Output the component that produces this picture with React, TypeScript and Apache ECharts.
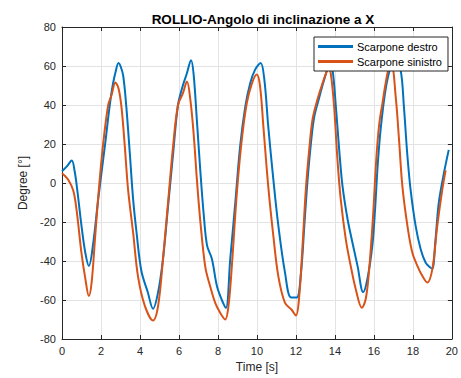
import React, { useEffect, useRef } from "react";
import * as echarts from "echarts";

const titleText = "ROLLIO-Angolo di inclinazione a X";
const xAxisName = "Time [s]";
const yAxisName = "Degree [°]";
const seriesNames = ["Scarpone destro", "Scarpone sinistro"];

const destroTimes = [
  0, 0.25, 0.5, 0.65, 0.8, 1.0, 1.2, 1.38, 1.6, 1.86, 2.2, 2.45, 2.6, 2.75, 2.9, 3.0, 3.14, 3.3, 3.48, 3.65,
  3.82, 4.07, 4.4, 4.67, 4.93, 5.18, 5.44, 5.7, 5.95, 6.2, 6.4, 6.62, 6.75, 6.92, 7.09, 7.26, 7.44, 7.69, 7.95,
  8.2, 8.41, 8.63, 8.89, 9.14, 9.4, 9.65, 9.9, 10.19, 10.38, 10.58, 10.84, 11.1, 11.44, 11.75, 12.04, 12.26,
  12.43, 12.6, 12.77, 12.94, 13.2, 13.45, 13.75, 13.88, 14.05, 14.22, 14.39, 14.65, 14.9, 15.16, 15.45, 15.67,
  15.92, 16.05, 16.2, 16.35, 16.6, 16.85, 17.1, 17.37, 17.54, 17.71, 17.88, 18.14, 18.4, 18.65, 18.9, 19.0,
  19.16, 19.33, 19.59, 19.84,
];
const destroValues = [
  6, 8.5, 11.5, 6, -5, -22, -36, -42.5, -31, -8, 19, 40, 50, 57, 61.5, 60, 55, 39, 15, -8.5,
  -25, -45, -56, -64.5, -56, -39, -12, 15, 40, 50, 56, 63, 56, 32, 7, -15, -32, -39, -53,
  -60, -64, -39, -10, 19, 39, 51, 58, 61.5, 53, 29, 2, -22, -46, -58.7, -58.7, -46,
  -22, 2, 20.5, 34, 44, 53, 61, 58, 39, 17, -1.6, -18.6, -30.6, -42.5, -56, -49,
  -32, -15, 10, 28, 48, 59, 63, 58, 39, 15, -3.3, -22, -34, -40.8, -43.4, -44,
  -29, -10, 5, 17,
];

const sinistroTimes = [
  0, 0.32, 0.58, 0.75, 1.0, 1.18, 1.38, 1.52, 1.69, 1.86, 2.1, 2.37, 2.54, 2.74, 2.9, 3.05, 3.22, 3.39, 3.65,
  3.9, 4.25, 4.67, 4.93, 5.18, 5.44, 5.7, 5.95, 6.2, 6.41, 6.58, 6.75, 6.92, 7.09, 7.35, 7.6, 7.86, 8.12, 8.37,
  8.54, 8.71, 8.97, 9.22, 9.48, 9.74, 9.99, 10.16, 10.33, 10.58, 10.84, 11.1, 11.44, 11.78, 12.0, 12.17, 12.34,
  12.51, 12.68, 12.85, 13.1, 13.36, 13.57, 13.67, 13.79, 13.96, 14.13, 14.3, 14.56, 14.81, 15.07, 15.38, 15.58,
  15.75, 15.95, 16.12, 16.27, 16.44, 16.6, 16.77, 16.91, 17.12, 17.29, 17.46, 17.72, 17.97, 18.23, 18.48, 18.74,
  19.0, 19.25, 19.51, 19.68,
];
const sinistroValues = [
  5, 1.7, -4, -14, -36, -48, -58, -51, -29, -7, 19, 40, 45, 51.5, 48.5, 39, 19, -3.4, -25.6,
  -48, -63, -70.5, -63, -39, -10, 19, 40, 46, 52, 43, 25.6, 1.7, -19, -43, -53, -61.5, -66.7, -70,
  -63, -43, -5, 22, 41, 51, 55.6, 49.6, 29, -1.7, -27, -48, -61.5, -65, -68, -58, -32,
  -3, 17, 32.5, 42.7, 51, 57, 59, 56, 39, 12, -8.5, -29, -42.5, -54.5, -64, -59.5,
  -45, -18, 12, 30, 41, 51, 59, 60, 44, 22, -1.6, -22, -35.7, -42.5, -47.6, -51,
  -44, -22, -3.3, 6.5,
];

const xMin = 0, xMax = 20, xStep = 2;
const yMin = -80, yMax = 80, yStep = 20;

const zip = (ts: number[], vs: number[]) => ts.map((t, i) => [t, vs[i]]);

export default function App() {
  const ref = useRef<HTMLDivElement>(null);
  useEffect(() => {
    if (!ref.current) return;
    const chart = echarts.init(ref.current, null, { renderer: "svg" });
    const font = "'Liberation Sans', Arial, Helvetica, sans-serif";
    const axisColor = "#262626";
    const gridColor = "#e3e3e3";
    const baseX = {
      type: "value" as const,
      min: xMin,
      max: xMax,
      interval: xStep,
      axisLine: { show: true, onZero: false, lineStyle: { color: axisColor, width: 1 } },
      axisTick: { show: true, inside: true, length: 4, lineStyle: { color: axisColor } },
    };
    const baseY = {
      type: "value" as const,
      min: yMin,
      max: yMax,
      interval: yStep,
      axisLine: { show: true, onZero: false, lineStyle: { color: axisColor, width: 1 } },
      axisTick: { show: true, inside: true, length: 4, lineStyle: { color: axisColor } },
    };
    chart.setOption({
      animation: false,
      backgroundColor: "#ffffff",
      textStyle: { fontFamily: font },
      title: {
        text: titleText,
        left: 258,
        textAlign: "center",
        top: 7,
        textStyle: { fontSize: 13.5, fontWeight: "bold", color: "#000", fontFamily: font },
      },
      grid: { left: 62, right: 8, top: 27, bottom: 38, containLabel: false },
      legend: {
        orient: "vertical",
        left: 314,
        top: 37,
        padding: [4, 6, 4, 4],
        itemGap: 4,
        itemWidth: 35,
        itemHeight: 3,
        icon: "rect",
        backgroundColor: "#ffffff",
        borderColor: "#262626",
        borderWidth: 1,
        borderRadius: 0,
        textStyle: { fontSize: 11, color: "#000", fontFamily: font, padding: [0, 0, 0, -1] },
        data: seriesNames,
      },
      xAxis: [
        {
          ...baseX,
          position: "bottom",
          name: xAxisName,
          nameLocation: "middle",
          nameGap: 22,
          nameTextStyle: { fontSize: 12, color: axisColor, fontFamily: font },
          axisLabel: { fontSize: 11, color: axisColor, margin: 6, fontFamily: font },
          splitLine: { show: true, lineStyle: { color: gridColor, width: 1 } },
        },
        {
          ...baseX,
          position: "top",
          axisLabel: { show: false },
          splitLine: { show: false },
        },
      ],
      yAxis: [
        {
          ...baseY,
          position: "left",
          name: yAxisName,
          nameLocation: "middle",
          nameGap: 27,
          nameTextStyle: { fontSize: 12, color: axisColor, fontFamily: font },
          axisLabel: { fontSize: 11, color: axisColor, margin: 6, fontFamily: font },
          splitLine: { show: true, lineStyle: { color: gridColor, width: 1 } },
        },
        {
          ...baseY,
          position: "right",
          axisLabel: { show: false },
          splitLine: { show: false },
        },
      ],
      series: [
        {
          name: seriesNames[0],
          type: "line",
          data: zip(destroTimes, destroValues),
          showSymbol: false,
          smooth: 0.35,
          lineStyle: { color: "#0072BD", width: 2 },
          itemStyle: { color: "#0072BD" },
          z: 2,
        },
        {
          name: seriesNames[1],
          type: "line",
          data: zip(sinistroTimes, sinistroValues),
          showSymbol: false,
          smooth: 0.35,
          lineStyle: { color: "#D95319", width: 2 },
          itemStyle: { color: "#D95319" },
          z: 3,
        },
      ],
    });
    return () => chart.dispose();
  }, []);
  return (
    <div
      ref={ref}
      style={{ position: "absolute", left: 0, top: 0, width: 461, height: 378 }}
    />
  );
}
